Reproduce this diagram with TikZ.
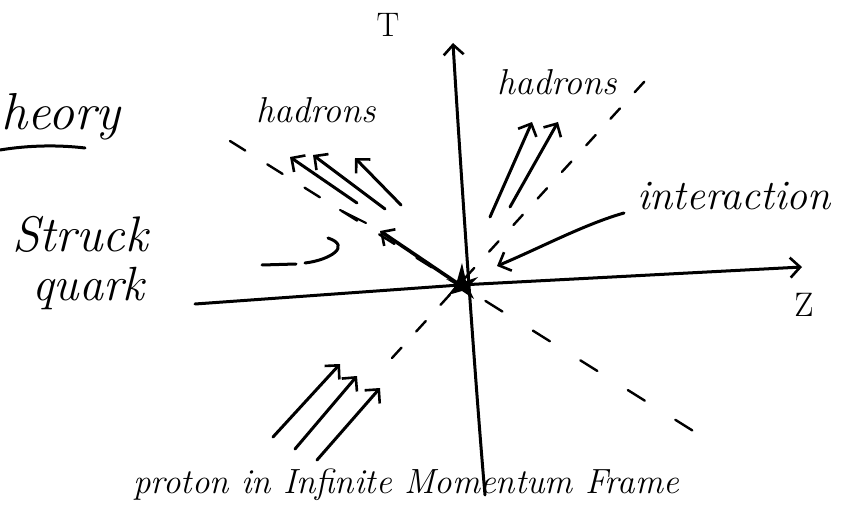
\documentclass[tikz,border=0pt]{standalone}
\usetikzlibrary{arrows.meta}
\begin{document}
\begin{tikzpicture}[x=1pt,y=-1pt,
  ink/.style={line width=3pt,line cap=round,line join=round},
  thinink/.style={line width=2.2pt,line cap=round},
  barb/.style={-{Straight Barb[length=10pt,width=20pt,line width=2.6pt]}},
  cone/.style={line width=2.4pt,dash pattern=on 14pt off 22pt,line cap=round},
  hand/.style={font=\fontsize{36}{38}\selectfont\itshape,inner sep=0pt},
  axlab/.style={font=\fontsize{34}{36}\selectfont,inner sep=0pt}]
\useasboundingbox (0,0) rectangle (842,518);
\fill[white] (0,0) rectangle (842,518);

% origin and axis ends
\coordinate (O) at (460,285);
\coordinate (zL) at (195,304);
\coordinate (zR) at (802,267);
\coordinate (tB) at (485,495);
\coordinate (tT) at (453,43);

% light-cone dashed lines
\coordinate (c1a) at (392,358);
\coordinate (c1b) at (655,70);
\coordinate (c2a) at (230,141);
\coordinate (c2b) at (722,449);
\draw[cone] (c1a) -- (c1b);
\draw[cone,dash pattern=on 18pt off 26pt] (c2a) -- (O);
\draw[cone,dash pattern=on 20pt off 36pt,dash phase=-30pt] (O) -- (c2b);

% axes
\draw[ink,barb] (zL) -- (O) -- (zR);
\draw[ink,barb] (tB) .. controls (475,380) and (460,160) .. (tT);

% interaction blob
\fill (O) +(-14,-6) -- +(-3,-4) -- +(2,-22) -- +(6,-4) -- +(18,-8) -- +(8,2) -- +(14,14) -- +(2,6) -- +(-12,10) -- +(-4,0) -- cycle;

% struck quark
\coordinate (sq) at (380,231);
\coordinate (sqd1) at (340,210);
\coordinate (sqd2) at (366,223);
\draw[ink,line width=3.6pt,barb] (O) -- (sq);
\draw[thinink] (sqd2) -- (sqd1);

% hadrons upper left
\coordinate (h1s) at (357,203); \coordinate (h1e) at (290,157);
\coordinate (h2s) at (385,209); \coordinate (h2e) at (313,155);
\coordinate (h3s) at (401,205); \coordinate (h3e) at (355,158);
\draw[ink,barb] (h1s) -- (h1e);
\draw[ink,barb] (h2s) -- (h2e);
\draw[ink,barb] (h3s) -- (h3e);

% hadrons upper right
\coordinate (h4s) at (490,217); \coordinate (h4e) at (532,122);
\coordinate (h5s) at (510,207); \coordinate (h5e) at (558,122);
\draw[ink,barb] (h4s) -- (h4e);
\draw[ink,barb] (h5s) -- (h5e);

% proton arrows
\coordinate (p1s) at (273,437); \coordinate (p1e) at (340,364);
\coordinate (p2s) at (295,449); \coordinate (p2e) at (357,376);
\coordinate (p3s) at (317,460); \coordinate (p3e) at (380,388);
\draw[ink,barb] (p1s) -- (p1e);
\draw[ink,barb] (p2s) -- (p2e);
\draw[ink,barb] (p3s) -- (p3e);

% labels
\node[hand,font=\fontsize{52}{54}\selectfont\itshape,anchor=base west] (theory) at (1,130) {heory};
\coordinate (ul1) at (0,150);
\coordinate (ul2) at (85,148);
\draw[ink] (ul1) .. controls (30,145) and (60,145) .. (ul2);

\node[axlab] (T) at (388,25) {T};
\node[hand] (hadL) at (316,110) {hadrons};
\node[hand] (hadR) at (557,82) {hadrons};
\node[hand,font=\fontsize{42}{44}\selectfont\itshape] (inter) at (734,196) {interaction};
\coordinate (istart) at (624,213);
\coordinate (iarr) at (497,266);
\draw[ink,barb] (istart) .. controls (585,224) and (540,248) .. (iarr);

\node[hand,font=\fontsize{50}{52}\selectfont\itshape,anchor=base west] (struck) at (12,252) {Struck};
\node[hand,font=\fontsize{48}{50}\selectfont\itshape,anchor=base west] (quark) at (32,300) {quark};
\coordinate (sa) at (262,265);
\coordinate (sb) at (328,238);
\draw[ink] (sa) -- (296,264);
\draw[ink] (305,263) .. controls (330,260) and (352,246) .. (sb);

\node[axlab] (Z) at (804,305) {Z};
\node[hand,font=\fontsize{35}{37}\selectfont\itshape,anchor=base] (proton) at (406,493) {proton in Infinite Momentum Frame};
\end{tikzpicture}
\end{document}
